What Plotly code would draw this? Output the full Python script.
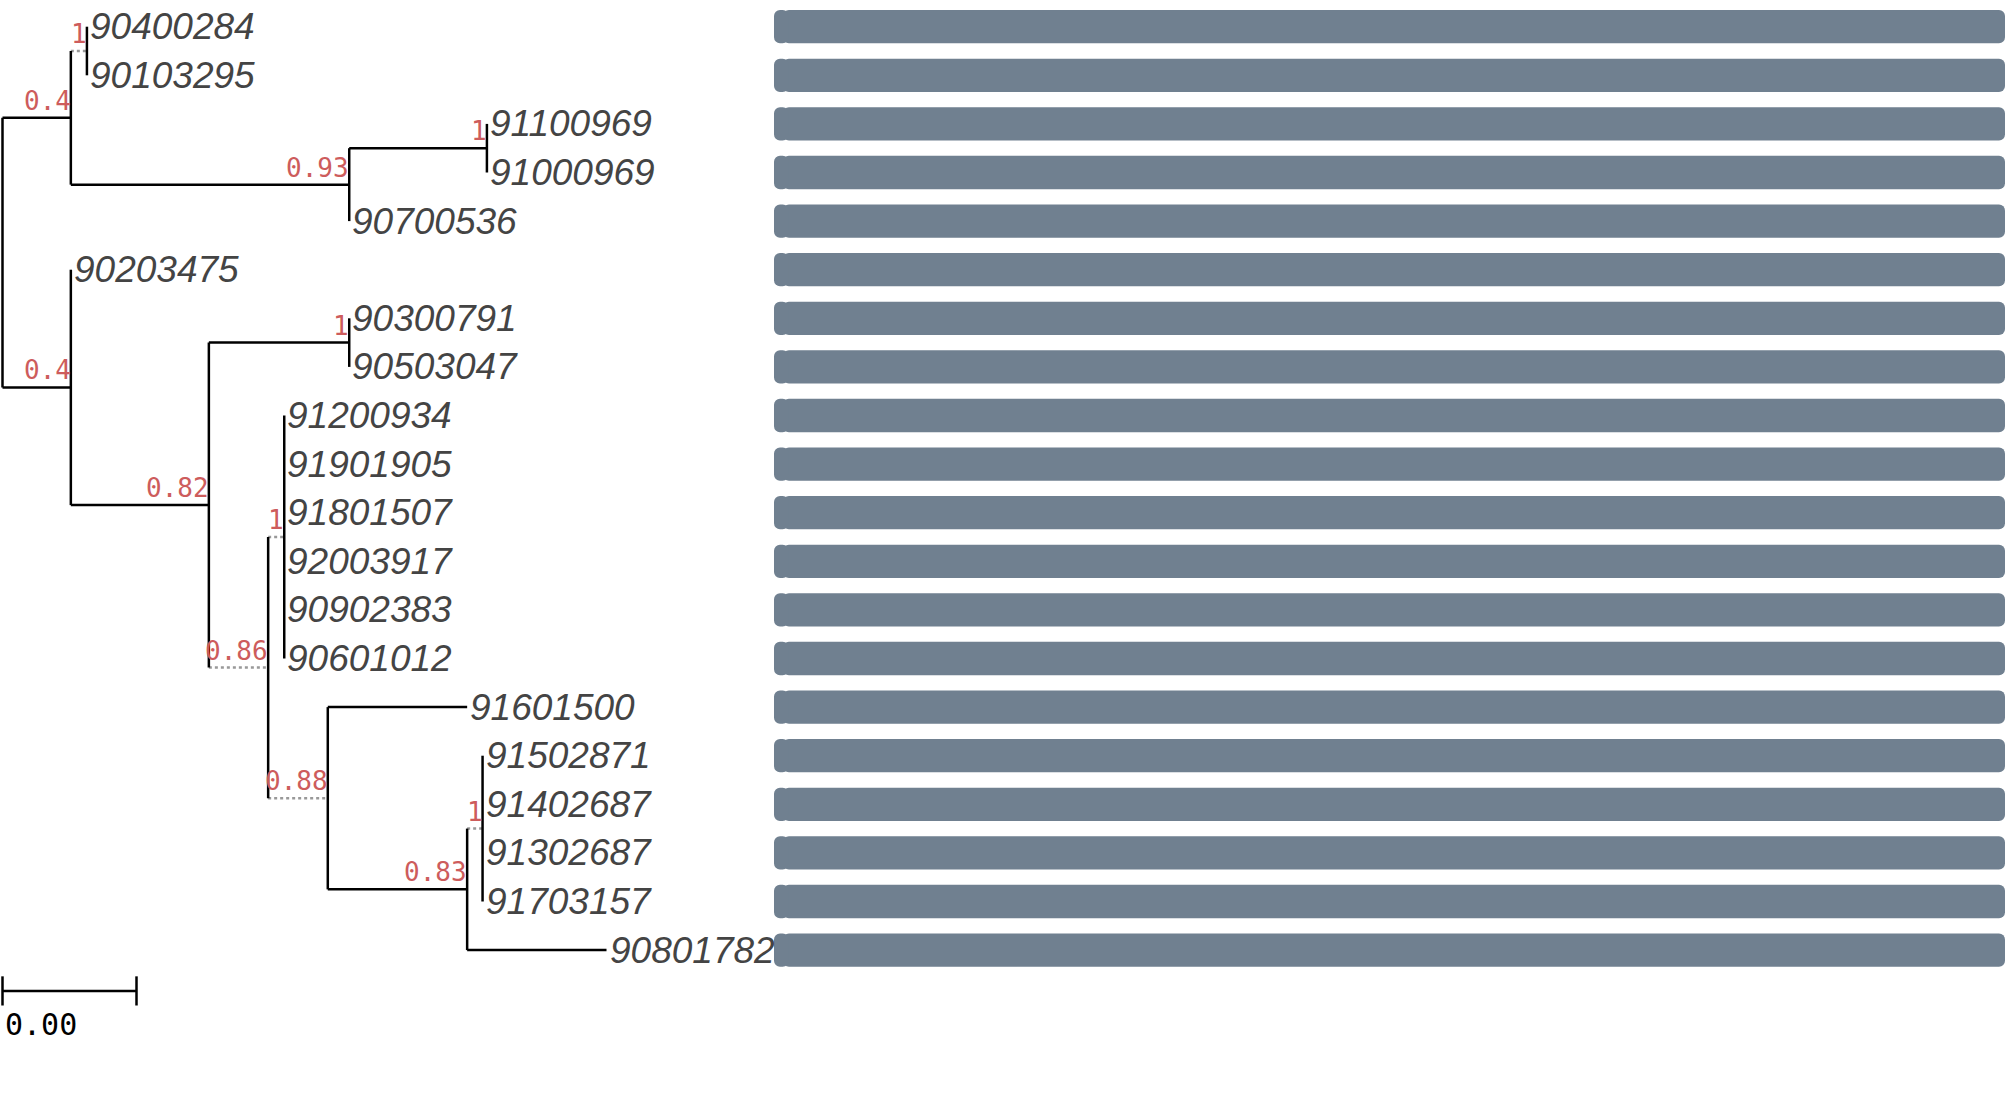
import plotly.graph_objects as go

# tree: one entry per node, parents listed before their children
node_ids = ["root", "n1", "n2", "90400284", "90103295", "n3", "n4", "91100969", "91000969", "90700536",
            "n5", "90203475", "n6", "n7", "90300791", "90503047", "n8", "n9",
            "91200934", "91901905", "91801507", "92003917", "90902383", "90601012",
            "n10", "91601500", "n11", "n12", "91502871", "91402687", "91302687", "91703157", "90801782"]
parents = [None, "root", "n1", "n2", "n2", "n1", "n3", "n4", "n4", "n3",
           "root", "n5", "n5", "n6", "n7", "n7", "n6", "n8",
           "n9", "n9", "n9", "n9", "n9", "n9",
           "n8", "n10", "n10", "n11", "n12", "n12", "n12", "n12", "n11"]
branch_len = [0, 0.00204, 0.00048, 0, 0, 0.00831, 0.00411, 0, 0, 0,
              0.00204, 0, 0.00412, 0.00419, 0, 0, 0.00177, 0.00048,
              0, 0, 0, 0, 0, 0,
              0.00178, 0.00416, 0.00416, 0.00046, 0, 0, 0, 0, 0.00416]
support = {"n1": 0.4, "n2": 1, "n3": 0.93, "n4": 1, "n5": 0.4, "n6": 0.82,
           "n7": 1, "n8": 0.86, "n9": 1, "n10": 0.88, "n11": 0.83, "n12": 1}
dotted = ["n2", "n8", "n9", "n10", "n12"]

# bar shown next to every tip (same order as tips)
bar_values = [1, 1, 1, 1, 1, 1, 1, 1, 1, 1, 1, 1, 1, 1, 1, 1, 1, 1, 1, 1]

scale_len = 0.004

# --- layout of the tree ---
children = {n: [] for n in node_ids}
for n, p in zip(node_ids, parents):
    if p is not None:
        children[p].append(n)

xpos = {}
for n, p, b in zip(node_ids, parents, branch_len):
    xpos[n] = 0.0 if p is None else xpos[p] + b

tips = [n for n in node_ids if not children[n]]
ypos = {n: i for i, n in enumerate(tips)}
for n in reversed(node_ids):
    if children[n]:
        ypos[n] = (ypos[children[n][0]] + ypos[children[n][-1]]) / 2

solid_x, solid_y, dot_x, dot_y = [], [], [], []
for n, p in zip(node_ids, parents):
    if p is not None and xpos[n] > xpos[p]:
        if n in dotted:
            dot_x += [xpos[p], xpos[n], None]
            dot_y += [ypos[n], ypos[n], None]
        else:
            solid_x += [xpos[p], xpos[n], None]
            solid_y += [ypos[n], ypos[n], None]
    if children[n]:
        ys = [ypos[c] for c in children[n]]
        solid_x += [xpos[n], xpos[n], None]
        solid_y += [min(ys), max(ys), None]

fig = go.Figure()
fig.add_trace(go.Scatter(x=dot_x, y=dot_y, mode="lines",
                         line=dict(color="#999999", width=2.5, dash="dot"), hoverinfo="skip"))
fig.add_trace(go.Scatter(x=solid_x, y=solid_y, mode="lines",
                         line=dict(color="black", width=2.5), hoverinfo="skip"))

# scale bar
sb_y = len(tips) - 1 + 0.84
fig.add_trace(go.Scatter(x=[0, scale_len, None, 0, 0, None, scale_len, scale_len],
                         y=[sb_y, sb_y, None, sb_y - 0.3, sb_y + 0.3, None, sb_y - 0.3, sb_y + 0.3],
                         mode="lines", line=dict(color="black", width=2.5), hoverinfo="skip"))
fig.add_annotation(x=0, y=sb_y + 0.7, text=f"{scale_len:.2f}", showarrow=False,
                   xanchor="left", yanchor="middle", xshift=0,
                   font=dict(family="DejaVu Sans Mono", size=30, color="black"))

# tip labels
for t in tips:
    fig.add_annotation(x=xpos[t], y=ypos[t], text=t, showarrow=False,
                       xanchor="left", yanchor="middle", xshift=1,
                       font=dict(family="Liberation Sans", size=37, color="#444444", style="italic"))

# node supports
for n, s in support.items():
    fig.add_annotation(x=xpos[n], y=ypos[n], text=f"{s:g}", showarrow=False,
                       xanchor="right", yanchor="bottom", xshift=2, yshift=0,
                       font=dict(family="DejaVu Sans Mono", size=26, color="#CD5C5C"))

# bars: full bar rounded at the far end, plus a short cap rounded at the start
rows = list(range(len(tips)))
cap = 0.012 * max(bar_values)
fig.add_trace(go.Bar(y=rows, x=[v - cap * 0.6 for v in bar_values], base=[cap * 0.6] * len(rows),
                     orientation="h", width=0.685,
                     marker=dict(color="#708090", opacity=1, line=dict(width=0)),
                     xaxis="x2", yaxis="y", hoverinfo="skip"))
fig.add_trace(go.Bar(y=rows, x=[-cap] * len(rows), base=[cap] * len(rows),
                     orientation="h", width=0.685,
                     marker=dict(color="#708090", opacity=1, line=dict(width=0)),
                     xaxis="x2", yaxis="y", hoverinfo="skip"))

px_per_unit = 134 / scale_len
x0 = -2.5 / px_per_unit
fig.update_layout(
    width=2007, height=1112,
    margin=dict(l=0, r=0, t=0, b=0),
    paper_bgcolor="white", plot_bgcolor="white",
    showlegend=False, barmode="overlay", barcornerradius=6,
    xaxis=dict(domain=[0, 1], range=[x0, x0 + 2007 / px_per_unit], visible=False),
    xaxis2=dict(domain=[774 / 2007, 2005 / 2007], range=[0, max(bar_values)], visible=False, anchor="y"),
    yaxis=dict(range=[(1112 - 26.7) / 48.6, -26.7 / 48.6], visible=False),
)

fig.write_html("out.html", config={"displayModeBar": False},
               post_script="document.body.style.margin = '0px';")
